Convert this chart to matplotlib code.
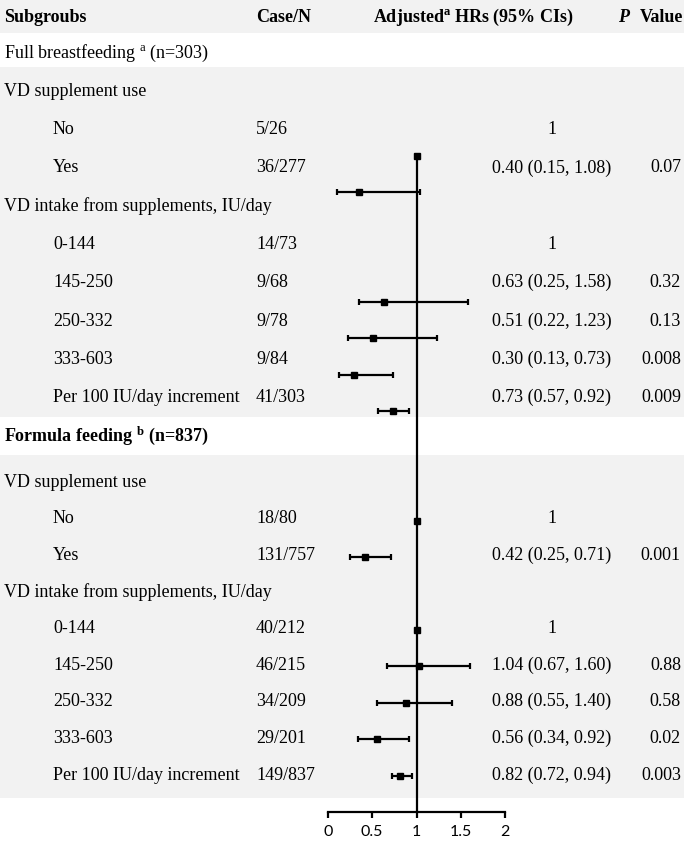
import matplotlib.pyplot as plt
from matplotlib.patches import Rectangle
import numpy as np

plt.rcParams['font.family'] = ['Liberation Serif', 'DejaVu Serif']
plt.rcParams['mathtext.fontset'] = 'custom'
plt.rcParams['mathtext.rm'] = 'Liberation Serif'
plt.rcParams['mathtext.it'] = 'Liberation Serif:italic'
plt.rcParams['mathtext.bf'] = 'Liberation Serif:bold'

# table body (20 rows under the header)
subgroups = ['Full breastfeeding $^{\\mathrm{a}}$ (n=303)', 'VD supplement use', 'No', 'Yes',
             'VD intake from supplements, IU/day', '0-144', '145-250', '250-332', '333-603',
             'Per 100 IU/day increment',
             'Formula feeding $^{\\mathbf{b}}$ (n=837)', 'VD supplement use', 'No', 'Yes',
             'VD intake from supplements, IU/day', '0-144', '145-250', '250-332', '333-603',
             'Per 100 IU/day increment']
indent = [0, 0, 1, 1, 0, 1, 1, 1, 1, 1, 0, 0, 1, 1, 0, 1, 1, 1, 1, 1]
cases = ['', '', '5/26', '36/277', '', '14/73', '9/68', '9/78', '9/84', '41/303',
         '', '', '18/80', '131/757', '', '40/212', '46/215', '34/209', '29/201', '149/837']
hr_text = ['', '', '1', '0.40 (0.15, 1.08)', '', '1', '0.63 (0.25, 1.58)', '0.51 (0.22, 1.23)',
           '0.30 (0.13, 0.73)', '0.73 (0.57, 0.92)',
           '', '', '1', '0.42 (0.25, 0.71)', '', '1', '1.04 (0.67, 1.60)', '0.88 (0.55, 1.40)',
           '0.56 (0.34, 0.92)', '0.82 (0.72, 0.94)']
p_text = ['', '', '', '0.07', '', '', '0.32', '0.13', '0.008', '0.009',
          '', '', '', '0.001', '', '', '0.88', '0.58', '0.02', '0.003']

# forest marks as drawn in the picture
nan = np.nan
hr_point = [nan, nan, 1, 0.35, nan, nan, 0.63, 0.51, 0.30, 0.73,
            nan, nan, 1, 0.42, nan, 1, 1.03, 0.88, 0.56, 0.81]
ci_low = [nan, nan, nan, 0.10, nan, nan, 0.35, 0.225, 0.13, 0.57,
          nan, nan, nan, 0.25, nan, nan, 0.67, 0.55, 0.345, 0.72]
ci_high = [nan, nan, nan, 1.04, nan, nan, 1.58, 1.23, 0.73, 0.92,
           nan, nan, nan, 0.71, nan, nan, 1.60, 1.40, 0.92, 0.945]
xticks = [0, 0.5, 1, 1.5, 2]
xticklabels = ['0', '0.5', '1', '1.5', '2']

W, H = 685, 841
fig = plt.figure(figsize=(W / 100, H / 100), dpi=100)

# background table axes in pixel units
bg = fig.add_axes([0, 0, 1, 1])
bg.set_xlim(0, W)
bg.set_ylim(H, 0)
bg.axis('off')
gray = '#f2f2f2'
for y0, y1 in [(0, 33), (67, 417), (455, 798)]:
    bg.add_patch(Rectangle((0, y0), 684, y1 - y0, color=gray, lw=0, zorder=0))

def row_y(i):
    # i = 1..20 body rows
    if i <= 10:
        return 53 + (i - 1) * 38.3
    if i == 11:
        return 436
    return 775 - (20 - i) * 36.6

fs = 13
hy = 17.5
bg.text(4, hy, 'Subgroubs', fontsize=fs, fontweight='bold', va='center')
bg.text(256, hy, 'Case/N', fontsize=fs, fontweight='bold', va='center')
bg.text(373, hy, 'Adjusted$^{\\mathbf{a}}$ HRs (95% CIs)', fontsize=fs, fontweight='bold', va='center')
bg.text(618, hy, 'P', fontsize=fs, fontweight='bold', style='italic', va='center')
bg.text(683, hy, 'Value', fontsize=fs, fontweight='bold', va='center', ha='right')

for k in range(20):
    i = k + 1
    y = row_y(i)
    bold = 'bold' if i == 11 else 'normal'
    bg.text(4 + 49 * indent[k], y, subgroups[k], fontsize=fs, fontweight=bold, va='center')
    bg.text(256, y, cases[k], fontsize=fs, va='center')
    bg.text(552, y, hr_text[k], fontsize=fs, va='center', ha='center')
    bg.text(681, y, p_text[k], fontsize=fs, va='center', ha='right')

# forest plot axes: body row i sits at pixel 156 + (i - 3) * 36.45
step = 36.45
top_px, bot_px = 140, 812
x0_px, x1_px = 327.7, 505.3
ax = fig.add_axes([x0_px / W, 1 - bot_px / H, (x1_px - x0_px) / W, (bot_px - top_px) / H])
ax.set_facecolor('none')
ax.set_xlim(0, 2)
ax.set_ylim(3 + (bot_px - 156) / step, 3 - (156 - top_px) / step)

rows = np.arange(1, 21)
pt = np.array(hr_point)
lo = np.array(ci_low)
hi = np.array(ci_high)
first = rows[np.isfinite(pt)][0]
ax.vlines(1, first - 0.08, ax.get_ylim()[0], color='black', lw=1.6, zorder=1)
m = np.isfinite(lo)
ax.errorbar(pt[m], rows[m], xerr=[pt[m] - lo[m], hi[m] - pt[m]], fmt='none',
            ecolor='black', elinewidth=1.6, capsize=2.4, capthick=1.6, zorder=2, clip_on=False)
ax.plot(pt, rows, 's', color='black', ms=4.2, zorder=3, clip_on=False)

for s in ['top', 'right', 'left']:
    ax.spines[s].set_visible(False)
ax.spines['bottom'].set_linewidth(1.6)
ax.set_yticks([])
ax.set_xticks(xticks)
ax.set_xticklabels(xticklabels, fontfamily='Lato', fontsize=11.5)
ax.tick_params(axis='x', direction='out', length=4, width=1.6, pad=5)

fig.savefig('out.png', dpi=100)
